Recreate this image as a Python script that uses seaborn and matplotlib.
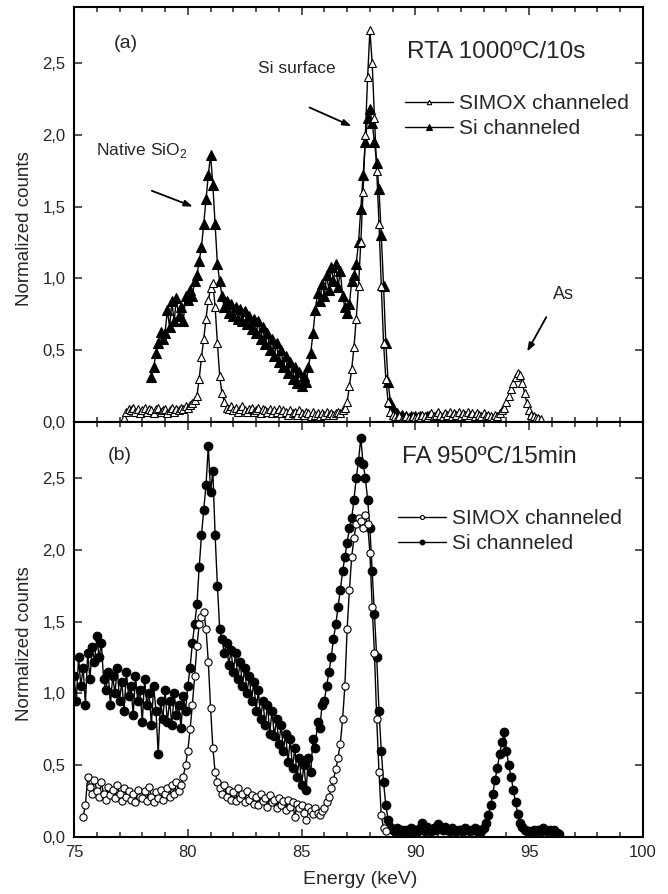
import numpy as np
import pandas as pd
import matplotlib
matplotlib.use('Agg')
import matplotlib.pyplot as plt
from matplotlib.ticker import MultipleLocator
import seaborn as sns

STEP = 0.1

# (a) RTA 1000C/10s
top_simox_start = 77.2
top_simox = [
    0.03, 0.07, 0.09, 0.08, 0.10, 0.07, 0.09, 0.06,                    # 77.2
    0.08, 0.10, 0.07, 0.09, 0.08, 0.06, 0.09, 0.10, 0.07, 0.08,        # 78
    0.09, 0.06, 0.08, 0.10, 0.07, 0.09, 0.08, 0.10, 0.09, 0.11,        # 79
    0.10, 0.12, 0.13, 0.15, 0.18, 0.30, 0.45, 0.58, 0.72, 0.85,        # 80
    0.93, 0.97, 0.80, 0.55, 0.32, 0.20, 0.14, 0.10, 0.09, 0.11,        # 81
    0.08, 0.10, 0.07, 0.09, 0.11, 0.08, 0.07, 0.09, 0.10, 0.07,        # 82
    0.08, 0.10, 0.06, 0.09, 0.08, 0.07, 0.09, 0.06, 0.08, 0.07,        # 83
    0.09, 0.06, 0.08, 0.07, 0.05, 0.08, 0.06, 0.07, 0.05, 0.08,        # 84
    0.06, 0.05, 0.07, 0.06, 0.04, 0.07, 0.05, 0.06, 0.04, 0.06,        # 85
    0.05, 0.07, 0.05, 0.06, 0.05, 0.06, 0.07, 0.06, 0.08, 0.10,        # 86
    0.14, 0.25, 0.37, 0.52, 0.72, 0.95, 1.25, 1.60, 2.00, 2.40,        # 87
    2.73, 2.50, 2.12, 1.75, 1.38, 0.95, 0.55, 0.30, 0.14, 0.07,        # 88
    0.05, 0.04, 0.03, 0.04, 0.02, 0.03, 0.04, 0.03, 0.02, 0.04,        # 89
    0.03, 0.04, 0.03, 0.05, 0.04, 0.03, 0.05, 0.06, 0.04, 0.05,        # 90
    0.07, 0.05, 0.04, 0.06, 0.05, 0.07, 0.04, 0.06, 0.05, 0.07,        # 91
    0.04, 0.06, 0.05, 0.07, 0.05, 0.06, 0.04, 0.06, 0.05, 0.04,        # 92
    0.06, 0.04, 0.05, 0.04, 0.03, 0.05, 0.04, 0.06, 0.08, 0.10,        # 93
    0.14, 0.18, 0.23, 0.27, 0.31, 0.34, 0.33, 0.27, 0.20, 0.13,        # 94
    0.08, 0.05, 0.04, 0.03, 0.03, 0.02,                                # 95
]

top_si_start = 78.4
top_si = [
    0.31, 0.38, 0.48, 0.55, 0.63, 0.58,                                # 78.4
    0.62, 0.78, 0.66, 0.84, 0.70, 0.86, 0.74, 0.80, 0.70, 0.88,        # 79
    0.85, 0.92, 0.88, 0.98, 1.02, 1.12, 1.22, 1.38, 1.55, 1.72,        # 80
    1.86, 1.65, 1.38, 1.10, 0.98, 0.88, 0.80, 0.84, 0.76, 0.82,        # 81
    0.74, 0.80, 0.72, 0.79, 0.70, 0.77, 0.68, 0.74, 0.65, 0.72,        # 82
    0.62, 0.70, 0.58, 0.66, 0.54, 0.62, 0.50, 0.58, 0.46, 0.55,        # 83
    0.42, 0.50, 0.38, 0.46, 0.34, 0.42, 0.30, 0.38, 0.27, 0.35,        # 84
    0.25, 0.32, 0.28, 0.38, 0.48, 0.62, 0.78, 0.90, 0.84, 0.96,        # 85
    0.88, 1.02, 0.92, 1.08, 0.98, 1.10, 0.94, 1.05, 0.88, 0.80,        # 86
    0.76, 0.82, 0.98, 1.02, 1.10, 1.25, 1.48, 1.72, 1.95, 2.12,        # 87
    2.18, 2.08, 1.95, 1.80, 1.62, 1.30, 0.95, 0.55, 0.28, 0.14,        # 88
    0.10, 0.07, 0.06, 0.04, 0.05, 0.03, 0.04, 0.03, 0.04, 0.03,        # 89
    0.04, 0.03, 0.04, 0.02, 0.03, 0.04, 0.03, 0.04, 0.02, 0.03,        # 90
    0.04, 0.03,                                                        # 91
]

# (b) FA 950C/15min
bot_simox_start = 75.4
bot_simox = [
    0.14, 0.22, 0.42, 0.35, 0.30, 0.40,                                # 75.4
    0.32, 0.28, 0.38, 0.30, 0.26, 0.35, 0.29, 0.33, 0.27, 0.36,        # 76
    0.30, 0.25, 0.34, 0.28, 0.32, 0.26, 0.30, 0.24, 0.33, 0.28,        # 77
    0.27, 0.32, 0.25, 0.35, 0.28, 0.24, 0.31, 0.27, 0.33, 0.26,        # 78
    0.30, 0.34, 0.28, 0.36, 0.30, 0.38, 0.32, 0.36, 0.42, 0.50,        # 79
    0.60, 0.75, 0.92, 1.12, 1.33, 1.48, 1.53, 1.57, 1.45, 1.22,        # 80
    0.90, 0.62, 0.45, 0.38, 0.34, 0.30, 0.36, 0.28, 0.33, 0.26,        # 81
    0.31, 0.25, 0.34, 0.27, 0.30, 0.24, 0.32, 0.26, 0.29, 0.23,        # 82
    0.28, 0.22, 0.30, 0.25, 0.27, 0.21, 0.29, 0.24, 0.26, 0.20,        # 83
    0.27, 0.22, 0.25, 0.19, 0.26, 0.21, 0.24, 0.14, 0.23, 0.20,        # 84
    0.22, 0.17, 0.12, 0.21, 0.18, 0.16, 0.20, 0.17, 0.15, 0.18,        # 85
    0.20, 0.24, 0.28, 0.34, 0.40, 0.47, 0.55, 0.65, 0.82, 1.05,        # 86
    1.45, 1.72, 1.95, 2.08, 2.18, 2.22, 2.20, 2.15, 2.24, 2.18,        # 87
    1.98, 1.60, 1.28, 0.82, 0.45, 0.15, 0.06, 0.04,                    # 88
]

bot_si_start = 75.0
bot_si = [
    1.12, 0.95, 1.25, 1.05, 1.18, 0.92, 1.28, 1.10, 1.32, 1.22,        # 75
    1.40, 1.25, 1.35, 1.10, 1.02, 1.15, 0.92, 1.12, 1.00, 1.18,        # 76
    0.95, 1.08, 0.88, 1.15, 0.98, 1.05, 0.85, 1.12, 0.95, 1.02,        # 77
    0.80, 1.10, 0.92, 1.00, 0.78, 1.05, 0.88, 0.58, 0.95, 0.82,        # 78
    1.02, 0.80, 0.95, 0.78, 1.00, 0.85, 0.92, 0.76, 0.98, 0.88,        # 79
    1.05, 1.18, 1.35, 1.48, 1.62, 1.88, 2.10, 2.28, 2.45, 2.72,        # 80
    2.40, 2.55, 2.10, 1.75, 1.45, 1.38, 1.28, 1.35, 1.20, 1.30,        # 81
    1.15, 1.28, 1.10, 1.22, 1.05, 1.18, 1.00, 1.12, 0.95, 1.08,        # 82
    0.88, 1.02, 0.82, 0.95, 0.78, 0.92, 0.72, 0.88, 0.70, 0.82,        # 83
    0.65, 0.78, 0.60, 0.72, 0.52, 0.68, 0.48, 0.62, 0.42, 0.55,        # 84
    0.36, 0.50, 0.33, 0.55, 0.45, 0.68, 0.62, 0.80, 0.76, 0.92,        # 85
    0.95, 1.05, 1.15, 1.25, 1.38, 1.48, 1.60, 1.72, 1.85, 1.95,        # 86
    2.05, 2.15, 2.22, 2.35, 2.50, 2.62, 2.78, 2.60, 2.50, 2.35,        # 87
    2.15, 1.85, 1.55, 1.25, 0.88, 0.60, 0.38, 0.22, 0.12, 0.07,        # 88
    0.05, 0.04, 0.06, 0.04, 0.05, 0.03, 0.05, 0.04, 0.06, 0.04,        # 89
    0.05, 0.04, 0.06, 0.10, 0.04, 0.07, 0.05, 0.04, 0.06, 0.05,        # 90
    0.09, 0.06, 0.05, 0.07, 0.05, 0.04, 0.06, 0.05, 0.04, 0.05,        # 91
    0.05, 0.04, 0.06, 0.05, 0.04, 0.05, 0.06, 0.04, 0.05, 0.04,        # 92
    0.06, 0.10, 0.15, 0.22, 0.30, 0.40, 0.48, 0.58, 0.66, 0.73,        # 93
    0.60, 0.50, 0.42, 0.33, 0.24, 0.16, 0.10, 0.07, 0.05, 0.04,        # 94
    0.04, 0.03, 0.05, 0.04, 0.05, 0.04, 0.06, 0.05, 0.04, 0.05,        # 95
    0.04, 0.05, 0.03, 0.02,                                            # 96
]

x_ticks = [75, 80, 85, 90, 95, 100]
y_ticks = [0.0, 0.5, 1.0, 1.5, 2.0, 2.5]
y_ticklabels = ['0,0', '0,5', '1,0', '1,5', '2,0', '2,5']
series_labels = ['SIMOX channeled', 'Si channeled']


def energies(start, values):
    return np.round(start + STEP * np.arange(len(values)), 2)


def draw_series(ax, start, values, marker, face, size, label):
    df = pd.DataFrame({'Energy': energies(start, values), 'Counts': values})
    sns.lineplot(data=df, x='Energy', y='Counts', ax=ax,
                 color='black', linewidth=1.0,
                 marker=marker, markersize=size,
                 markerfacecolor=face, markeredgecolor='black',
                 markeredgewidth=0.8, label=label,
                 estimator=None, sort=False)


def style_axes(ax):
    ax.set_xlim(75, 100)
    ax.set_ylim(0, 2.89)
    ax.set_xticks(x_ticks)
    ax.xaxis.set_minor_locator(MultipleLocator(1))
    ax.set_yticks(y_ticks)
    ax.set_yticklabels(y_ticklabels)
    ax.tick_params(which='both', direction='in', top=True, right=True,
                   width=1.1, labelsize=12)
    ax.tick_params(which='major', length=6, pad=6)
    ax.tick_params(which='minor', length=3.5)
    for sp in ax.spines.values():
        sp.set_linewidth(1.5)
        sp.set_color('black')
    ax.set_ylabel('Normalized counts', fontsize=13.5)
    ax.yaxis.set_label_coords(-0.072, 0.465)


def add_legend(ax, x0, y0):
    handles, labels = ax.get_legend_handles_labels()
    order = [labels.index(l) for l in series_labels]
    ax.legend([handles[i] for i in order], series_labels,
              loc='upper left', bbox_to_anchor=(x0, y0),
              frameon=False, fontsize=15, borderpad=0, borderaxespad=0,
              handlelength=2.3, handletextpad=0.3, labelspacing=0.3,
              markerscale=0.55)


def plot_figure():
    sns.set_style('ticks')
    plt.rcParams['font.family'] = ['Liberation Sans', 'DejaVu Sans']

    fig, axes = plt.subplots(nrows=2, ncols=1, sharex=True,
                             figsize=(6.68, 8.94), dpi=100)
    fig.subplots_adjust(left=0.1108, right=0.9626, bottom=0.0638,
                        top=0.9922, hspace=0)
    ax_a, ax_b = axes

    # (a)
    draw_series(ax_a, top_si_start, top_si, '^', 'black', 6.8, series_labels[1])
    draw_series(ax_a, top_simox_start, top_simox, '^', 'white', 5.8,
                series_labels[0])
    style_axes(ax_a)
    ax_a.tick_params(labelbottom=False)
    add_legend(ax_a, 0.582, 0.79)

    ax_a.text(0.069, 0.913, '(a)', transform=ax_a.transAxes, fontsize=14,
              va='center', ha='left')
    ax_a.text(0.585, 0.892, 'RTA 1000ºC/10s', transform=ax_a.transAxes,
              fontsize=17.5, va='center', ha='left')
    ax_a.text(0.323, 0.851, 'Si surface', transform=ax_a.transAxes,
              fontsize=12.5, va='center', ha='left')
    ax_a.text(0.039, 0.655, r'Native SiO$_\mathregular{2}$',
              transform=ax_a.transAxes, fontsize=12.5, va='center', ha='left')
    ax_a.text(0.842, 0.306, 'As', transform=ax_a.transAxes, fontsize=13,
              va='center', ha='left')

    arrow = dict(arrowstyle='-|>,head_length=0.5,head_width=0.18',
                 color='black', lw=1.3, shrinkA=0, shrinkB=0)
    ax_a.annotate('', xy=(80.22, 1.50), xytext=(78.42, 1.61), arrowprops=arrow)
    ax_a.annotate('', xy=(87.19, 2.06), xytext=(85.35, 2.19), arrowprops=arrow)
    ax_a.annotate('', xy=(94.91, 0.49), xytext=(95.75, 0.73), arrowprops=arrow)

    # (b)
    draw_series(ax_b, bot_si_start, bot_si, 'o', 'black', 6.2, series_labels[1])
    draw_series(ax_b, bot_simox_start, bot_simox, 'o', 'white', 5.2,
                series_labels[0])
    style_axes(ax_b)
    ax_b.set_xlabel('Energy (keV)', fontsize=14)
    ax_b.xaxis.set_label_coords(0.503, -0.082)
    add_legend(ax_b, 0.569, 0.79)

    ax_b.text(0.06, 0.92, '(b)', transform=ax_b.transAxes, fontsize=14,
              va='center', ha='left')
    ax_b.text(0.576, 0.916, 'FA 950ºC/15min', transform=ax_b.transAxes,
              fontsize=17.5, va='center', ha='left')

    fig.savefig('out.png', dpi=100)
    plt.close(fig)


if __name__ == '__main__':
    plot_figure()
